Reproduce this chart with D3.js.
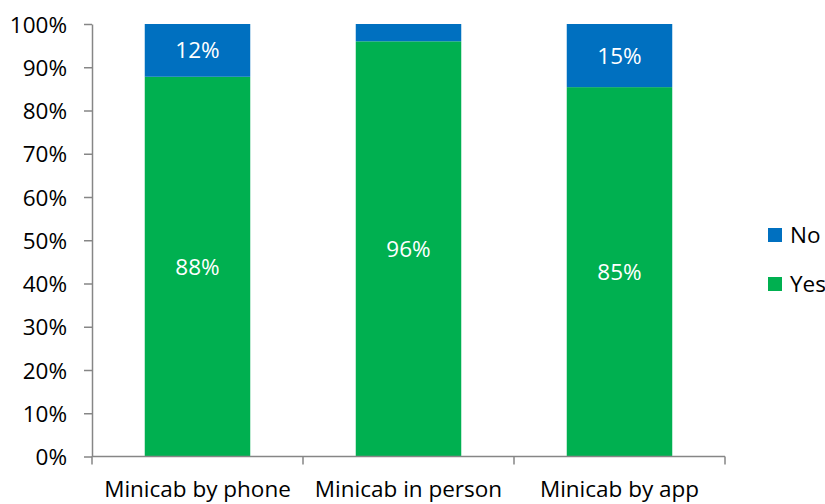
<!DOCTYPE html>
<html><head><meta charset="utf-8">
<script src="https://cdn.jsdelivr.net/npm/d3@7"></script>
<style>body{margin:0;background:#fff}svg{display:block}text{font-family:"Open Sans",Lato,sans-serif}</style>
</head><body>
<svg id="c" width="825" height="504"></svg>
<script>
const categories = ["Minicab by phone", "Minicab in person", "Minicab by app"];
const yesValues = [87.8, 96.0, 85.4];
const noValues = [12.2, 4.0, 14.6];
const yesLabels = ["88%", "96%", "85%"];
const noLabels = ["12%", "", "15%"];
const seriesNames = ["No", "Yes"];
const yTicks = [0,10,20,30,40,50,60,70,80,90,100];

const FONT = "'Open Sans',Lato,sans-serif";
const FS = 22.5;
const svg = d3.select("#c");
const L = 92, R = 725, T = 24, B = 456.5;
const x = d3.scaleBand().domain(categories).range([L, R]).paddingInner(0.5).paddingOuter(0.25);
const xb = d3.scaleBand().domain(categories).range([L, R]);
const y = d3.scaleLinear().domain([0, 100]).range([B, T]);
const colors = {No: "#0070C0", Yes: "#00B050"};

const data = categories.map((c, i) => ({cat: c, Yes: yesValues[i], No: noValues[i], yl: yesLabels[i], nl: noLabels[i]}));
const stack = d3.stack().keys(["Yes", "No"])(data);

const g = svg.append("g");
stack.forEach(layer => {
  g.selectAll(null).data(layer).enter().append("rect")
    .attr("x", d => x(d.data.cat))
    .attr("width", x.bandwidth())
    .attr("y", d => y(Math.min(d[1], 100)))
    .attr("height", d => y(d[0]) - y(Math.min(d[1], 100)))
    .attr("fill", colors[layer.key]);
  g.selectAll(null).data(layer).enter().append("text")
    .attr("x", d => x(d.data.cat) + x.bandwidth() / 2)
    .attr("y", d => (y(d[0]) + y(Math.min(d[1], 100))) / 2)
    .attr("dy", "0.36em")
    .attr("text-anchor", "middle")
    .attr("fill", "#fff")
    .attr("font-size", FS)
    .text(d => layer.key === "Yes" ? d.data.yl : d.data.nl);
});

// y axis
const yAxis = d3.axisLeft(y).tickValues(yTicks).tickFormat(d => d + "%").tickSize(8).tickSizeOuter(0);
const ya = svg.append("g").attr("transform", `translate(${L},0)`).call(yAxis);
ya.select(".domain").attr("stroke", "#868686").attr("stroke-width", 1.5);
ya.selectAll(".tick line").attr("stroke", "#868686").attr("stroke-width", 1.5);
ya.selectAll(".tick text").attr("font-size", FS).attr("fill", "#000").attr("x", -25).attr("dy", "0.36em").attr("font-family", FONT);

// x axis
const xa = svg.append("g").attr("transform", `translate(0,${B})`);
xa.append("line").attr("x1", L).attr("x2", R).attr("stroke", "#868686").attr("stroke-width", 1.5);
const bounds = categories.map(c => xb(c)).concat([R]);
xa.selectAll(null).data(bounds).enter().append("line")
  .attr("x1", d => d).attr("x2", d => d).attr("y1", 0).attr("y2", 8)
  .attr("stroke", "#868686").attr("stroke-width", 1.5);
xa.selectAll(null).data(categories).enter().append("text")
  .attr("x", d => xb(d) + xb.bandwidth() / 2)
  .attr("y", 32)
  .attr("dy", "0.36em")
  .attr("text-anchor", "middle")
  .attr("font-size", FS)
  .attr("fill", "#000")
  .text(d => d);

// legend
const lg = svg.append("g");
seriesNames.forEach((s, i) => {
  const yy = 235 + i * 49;
  lg.append("rect").attr("x", 768).attr("y", yy - 7).attr("width", 14).attr("height", 14).attr("fill", colors[s]);
  lg.append("text").attr("x", 790).attr("y", yy).attr("dy", "0.36em").attr("font-size", FS).attr("fill", "#000").text(s);
});
</script>
</body></html>
